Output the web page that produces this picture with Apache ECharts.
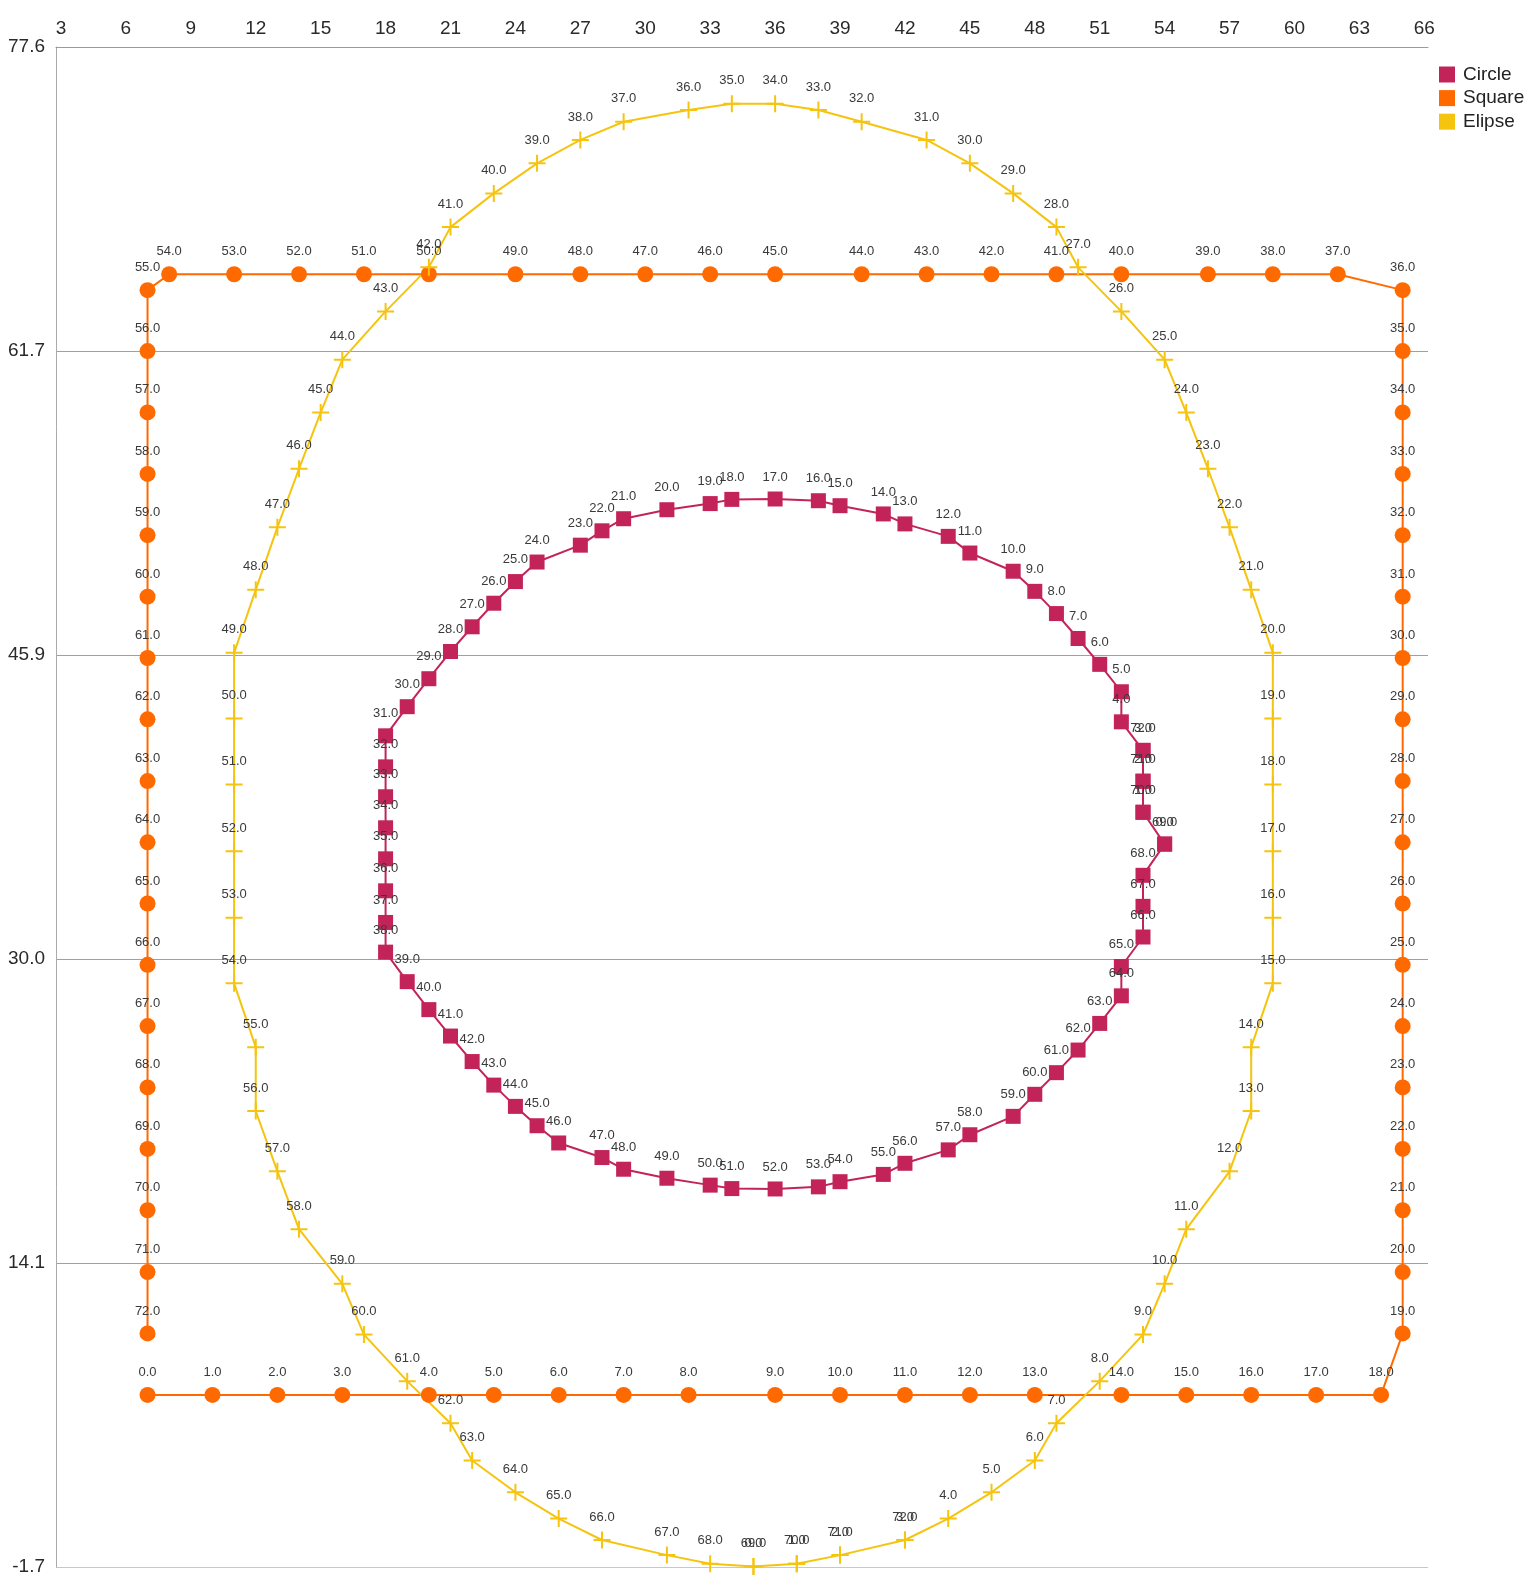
<!DOCTYPE html>
<html>
<head>
<meta charset="utf-8">
<script src="https://cdn.jsdelivr.net/npm/echarts@6/dist/echarts.min.js"></script>
<style>
  html, body { margin: 0; padding: 0; background: #ffffff; }
  #chart { width: 1536px; height: 1588px; }
</style>
</head>
<body>
<div id="chart"></div>
<script>
// ---- data ----
const seriesNames = ['Circle', 'Square', 'Elipse'];

const xTickValues = [3, 6, 9, 12, 15, 18, 21, 24, 27, 30, 33, 36, 39, 42, 45, 48, 51, 54, 57, 60, 63, 66];

const circleX = [54,53,53,53,52,52,51,50,49,48,
                 47,45,44,42,41,39,38,36,34,33,
                 31,29,28,27,25,24,23,22,21,20,
                 19,18,18,18,18,18,18,18,18,19,
                 20,21,22,23,24,25,26,28,29,31,
                 33,34,36,38,39,41,42,44,45,47,
                 48,49,50,51,52,52,53,53,53,54,
                 53,53,53];
const circleY = [36.00,37.66,39.28,40.89,42.38,43.95,45.38,46.73,48.03,49.19,
                 50.24,51.19,52.06,52.71,53.23,53.66,53.92,54.01,53.99,53.77,
                 53.45,52.98,52.35,51.60,50.72,49.70,48.57,47.34,46.05,44.63,
                 43.17,41.65,40.03,38.47,36.85,35.23,33.56,31.91,30.36,28.82,
                 27.36,25.98,24.65,23.42,22.31,21.30,20.40,19.64,19.03,18.56,
                 18.20,18.02,18.00,18.11,18.38,18.76,19.34,20.04,20.83,21.79,
                 22.94,24.07,25.25,26.64,28.08,29.61,31.15,32.75,34.37,36.00,
                 37.66,39.28,40.89];

const squareX = [7,10,13,16,20,23,26,29,32,36,39,42,45,48,52,55,58,61,64,
                 65,65,65,65,65,65,65,65,65,65,65,65,65,65,65,65,65,65,
                 62,59,56,52,49,46,43,40,36,33,30,27,24,20,17,14,11,8,
                 7,7,7,7,7,7,7,7,7,7,7,7,7,7,7,7,7,7];
const squareY = [7.25,7.25,7.25,7.25,7.25,7.25,7.25,7.25,7.25,7.25,7.25,7.25,7.25,7.25,7.25,7.25,7.25,7.25,7.25,
                 10.46,13.66,16.89,20.09,23.30,26.50,29.70,32.90,36.09,39.29,42.51,45.71,48.91,52.12,55.32,58.53,61.73,64.91,
                 65.74,65.74,65.74,65.74,65.74,65.74,65.74,65.74,65.74,65.74,65.74,65.74,65.74,65.74,65.74,65.74,65.74,65.74,
                 64.91,61.73,58.53,55.32,52.12,48.91,45.71,42.51,39.29,36.09,32.90,29.70,26.50,23.30,20.09,16.89,13.66,10.46];

const elipseX = [35,37,39,42,44,46,48,49,51,53,
                 54,55,57,58,58,59,59,59,59,59,
                 59,58,57,56,55,54,52,50,49,47,
                 45,43,40,38,36,34,32,29,27,25,
                 23,21,20,18,16,15,14,13,12,11,
                 11,11,11,11,11,12,12,13,14,16,
                 17,19,21,22,24,26,28,31,33,35,
                 37,39,42];
const elipseY = [-1.70,-1.56,-1.11,-0.32,0.80,2.17,3.83,5.77,7.97,10.40,
                 13.05,15.90,18.92,22.07,25.40,28.73,32.16,35.63,39.11,42.55,
                 45.98,49.27,52.53,55.59,58.52,61.28,63.80,66.10,68.20,69.96,
                 71.53,72.75,73.70,74.31,74.64,74.64,74.31,73.70,72.75,71.53,
                 69.96,68.20,66.10,63.80,61.28,58.52,55.59,52.53,49.27,45.98,
                 42.55,39.11,35.63,32.16,28.73,25.40,22.07,18.92,15.90,13.05,
                 10.40,7.97,5.77,3.83,2.17,0.80,-0.32,-1.11,-1.56,-1.70,
                 -1.56,-1.11,-0.32];

// ---- chart ----
const FONT = '"Helvetica Neue", Helvetica, "Liberation Sans", Arial, sans-serif';
function pairs(xs, ys) { return xs.map((x, i) => [x, ys[i]]); }

const labelOpt = {
  show: true,
  position: 'top',
  distance: 8,
  fontFamily: FONT,
  fontSize: 13,
  color: '#3a3a3a',
  formatter: p => p.dataIndex.toFixed(1)
};

const chart = echarts.init(document.getElementById('chart'), null, { renderer: 'canvas' });
chart.setOption({
  animation: false,
  backgroundColor: '#ffffff',
  textStyle: { fontFamily: FONT },
  grid: { left: 56, right: 108, top: 47, bottom: 21, containLabel: false, outerBoundsMode: 'none' },
  legend: {
    orient: 'vertical',
    left: 1434,
    top: 60,
    itemWidth: 16,
    itemHeight: 16,
    itemGap: 4.6,
    icon: 'rect',
    data: seriesNames,
    textStyle: { fontFamily: FONT, fontSize: 19, lineHeight: 19, color: '#222', padding: [0, 0, 0, 3] }
  },
  xAxis: {
    type: 'value',
    position: 'top',
    min: 2.77,
    max: 66.17,
    axisLine: { show: true, onZero: false, lineStyle: { color: '#9a9a9a', width: 1 } },
    axisTick: { show: false },
    splitLine: { show: false },
    axisLabel: {
      customValues: xTickValues,
      fontFamily: FONT,
      fontSize: 19,
      color: '#2a2a2a',
      margin: 9,
      formatter: v => String(Math.round(v))
    }
  },
  yAxis: {
    type: 'value',
    min: -1.73,
    max: 77.6,
    interval: 15.866,
    axisLine: { show: true, onZero: false, lineStyle: { color: '#aaaaaa', width: 1 } },
    axisTick: { show: false },
    splitLine: { show: true, lineStyle: { color: ['#c8c8c8', '#a0a0a0', '#a0a0a0', '#a0a0a0', '#a0a0a0', '#9a9a9a'], width: 1 } },
    axisLabel: {
      fontFamily: FONT,
      fontSize: 19,
      color: '#2a2a2a',
      margin: 11,
      formatter: v => v.toFixed(1)
    }
  },
  series: [
    {
      name: seriesNames[0],
      type: 'line',
      data: pairs(circleX, circleY),
      symbol: 'rect',
      symbolSize: 15,
      showAllSymbol: true,
      itemStyle: { color: '#c2245a' },
      lineStyle: { color: '#c2245a', width: 2 },
      label: labelOpt
    },
    {
      name: seriesNames[1],
      type: 'line',
      data: pairs(squareX, squareY),
      symbol: 'circle',
      symbolSize: 16,
      showAllSymbol: true,
      itemStyle: { color: '#ff6a00' },
      lineStyle: { color: '#ff6a00', width: 2 },
      label: labelOpt
    },
    {
      name: seriesNames[2],
      type: 'line',
      data: pairs(elipseX, elipseY),
      symbol: 'path://M7.5,0H9.5V7.5H17V9.5H9.5V17H7.5V9.5H0V7.5H7.5Z',
      symbolSize: 17,
      symbolKeepAspect: true,
      showAllSymbol: true,
      itemStyle: { color: '#f5c40f' },
      lineStyle: { color: '#f5c40f', width: 2 },
      label: labelOpt
    }
  ]
});
</script>
</body>
</html>
